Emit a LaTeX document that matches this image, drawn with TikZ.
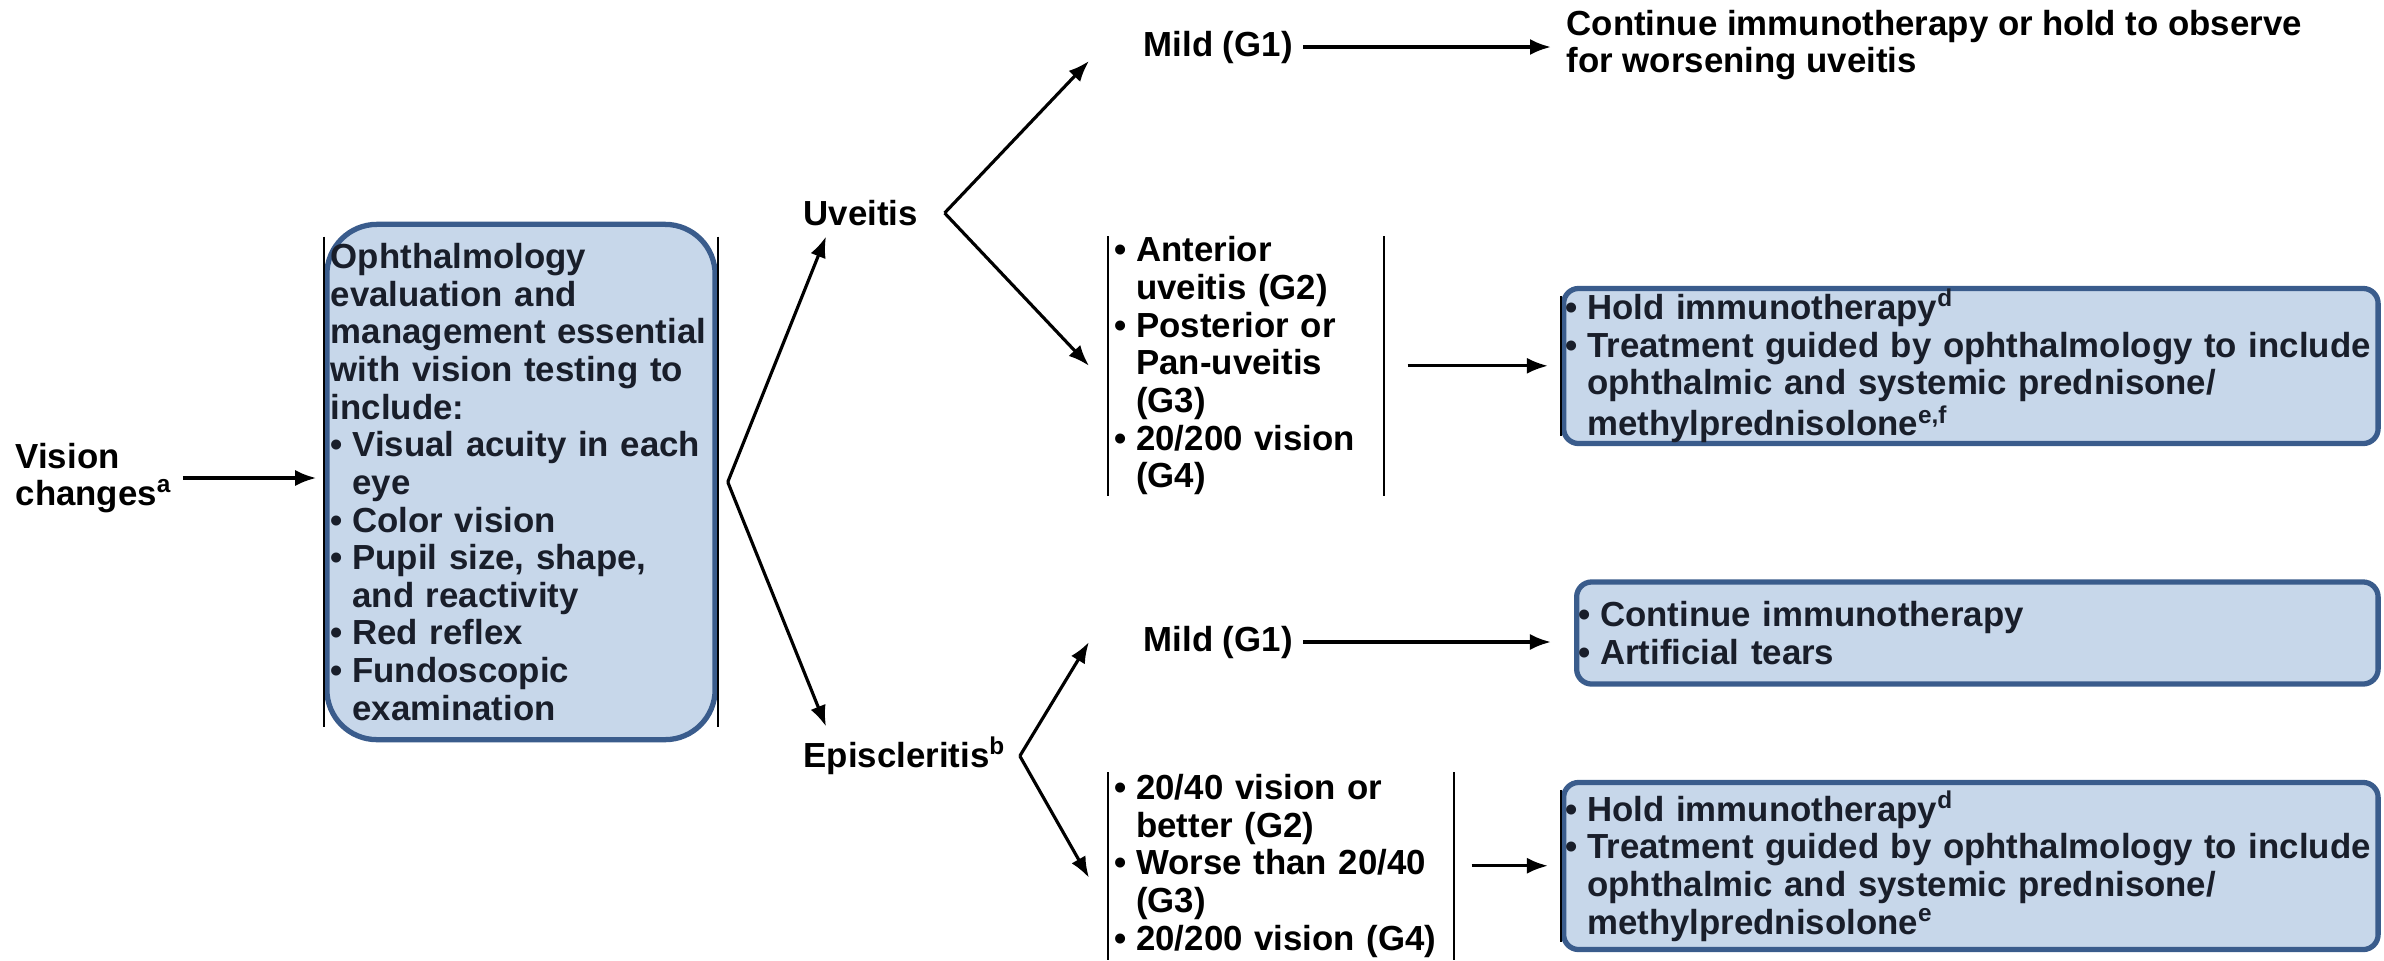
\documentclass[tikz,border=0pt]{standalone}
\usepackage{fontspec}
\setmainfont{Liberation Sans}
\usetikzlibrary{positioning,arrows.meta,calc}

\definecolor{boxfill}{RGB}{199,215,234}
\definecolor{boxline}{RGB}{58,92,140}
\definecolor{boxtext}{RGB}{25,30,42}

\newcommand{\bl}{\makebox[0.62em][l]{\textbullet}}
\newcommand{\ind}{\hspace*{0.62em}}

\begin{document}
\begin{tikzpicture}[
        x=0.01cm, y=-0.01cm,
        font=\bfseries\fontsize{9.9}{10.7}\selectfont,
        >=Latex,
        flow/.style={-{Latex[length=2.1mm,width=1.6mm]}, line width=0.9pt},
        bar/.style={draw=black, line width=0.6pt},
        label/.style={inner sep=1mm, align=left},
        grades/.style={inner xsep=0.6mm, inner ysep=0pt, align=left},
        action/.style={
            rectangle,
            rounded corners=1.5mm,
            draw=boxline,
            fill=boxfill,
            text=boxtext,
            line width=1.5pt,
            align=left,
            inner xsep=0.2mm,
            inner ysep=0pt
        },
        sidebars/.style={append after command={
            ([yshift=-#1]\tikzlastnode.north west) edge[bar] ([yshift=#1]\tikzlastnode.south west)
            ([yshift=-#1]\tikzlastnode.north east) edge[bar] ([yshift=#1]\tikzlastnode.south east)}},
        sidebars/.default=0pt,
        leftbar/.style={append after command={
            ([yshift=-#1]\tikzlastnode.north west) edge[bar] ([yshift=#1]\tikzlastnode.south west)}},
        leftbar/.default=0pt
    ]

    \useasboundingbox (0,0) rectangle (2384,960);

    % first column
    \node[label, anchor=west] (vision) at (5,478) {Vision\\changes\textsuperscript{a}};

    \node[action, rounded corners=5mm, text width=3.8cm, minimum height=5.15cm,
        inner xsep=0.4mm, sidebars=1.5mm] (exam) at (521,482) {
        Ophthalmology\\evaluation and\\management essential\\with vision testing to\\include:\\
        \bl Visual acuity in each\\\ind eye\\
        \bl Color vision\\
        \bl Pupil size, shape,\\\ind and reactivity\\
        \bl Red reflex\\
        \bl Fundoscopic\\\ind examination
    };

    % diagnoses
    \node[label, anchor=west] (uveitis) at (793,213) {Uveitis};
    \node[label, anchor=west] (episc) at (793,756) {Episcleritis\textsuperscript{b}};

    % grades
    \node[label, anchor=west] (mild1) at (1133,47) {Mild (G1)};
    \node[grades, sidebars, anchor=north west, text width=2.62cm, minimum height=2.57cm] (grade1) at (1108,236) {
        \bl Anterior\\\ind uveitis (G2)\\
        \bl Posterior or\\\ind Pan-uveitis\\\ind (G3)\\
        \bl 20/200 vision\\\ind (G4)
    };
    \node[label, anchor=west] (mild2) at (1133,642) {Mild (G1)};
    \node[grades, sidebars, anchor=north west, text width=3.32cm, minimum height=1.86cm] (grade2) at (1108,772) {
        \bl 20/40 vision or\\\ind better (G2)\\
        \bl Worse than 20/40\\\ind (G3)\\
        \bl 20/200 vision (G4)
    };

    % management
    \node[label, anchor=west] (cont1) at (1556,45) {Continue immunotherapy or hold to observe\\for worsening uveitis};
    \node[action, leftbar=1mm, anchor=west, text width=8.1cm, minimum height=1.55cm] (hold1) at (1561,366) {
        \bl Hold immunotherapy\textsuperscript{d}\\
        \bl Treatment guided by ophthalmology to include\\
        \ind ophthalmic and systemic prednisone/\\
        \ind methylprednisolone\textsuperscript{e,f}
    };
    \node[action, anchor=west, text width=7.97cm, minimum height=1.02cm] (cont2) at (1574,633) {
        \bl Continue immunotherapy\\
        \bl Artificial tears
    };
    \node[action, leftbar=1mm, anchor=west, text width=8.1cm, minimum height=1.67cm] (hold2) at (1561,866) {
        \bl Hold immunotherapy\textsuperscript{d}\\
        \bl Treatment guided by ophthalmology to include\\
        \ind ophthalmic and systemic prednisone/\\
        \ind methylprednisolone\textsuperscript{e}
    };

    % forks
    \coordinate (fork) at ([xshift=1mm]exam.east);
    \coordinate (ufork) at ([xshift=1.6mm]uveitis.east);
    \coordinate (efork) at ([xshift=0.3mm]episc.east);

    \draw[flow, shorten >=0.8mm] (vision.east) -- (vision.east -| exam.west);
    \draw[flow] (fork) -- ([xshift=3.3mm]uveitis.south west);
    \draw[flow] (fork) -- ([xshift=3.3mm]episc.north west);

    \draw[flow] (ufork) -- ([shift={(-4.4mm,-1.4mm)}]mild1.west);
    \draw[flow] (ufork) -- ([xshift=-1.9mm]grade1.west);
    \draw[flow] (efork) -- ([xshift=-4.4mm]mild2.west);
    \draw[flow] (efork) -- ([shift={(-1.9mm,-1.2mm)}]grade2.west);

    \draw[flow, shorten >=0.5mm] (mild1) -- (mild1 -| cont1.west);
    \draw[flow, shorten >=2.3mm] (mild2) -- (mild2 -| cont2.west);
    \draw[flow, shorten <=2.4mm, shorten >=1.3mm] (grade1.east) -- (grade1.east -| hold1.west);
    \draw[flow, shorten <=1.8mm, shorten >=1.3mm] (grade2.east) -- (grade2.east -| hold2.west);

\end{tikzpicture}
\end{document}
